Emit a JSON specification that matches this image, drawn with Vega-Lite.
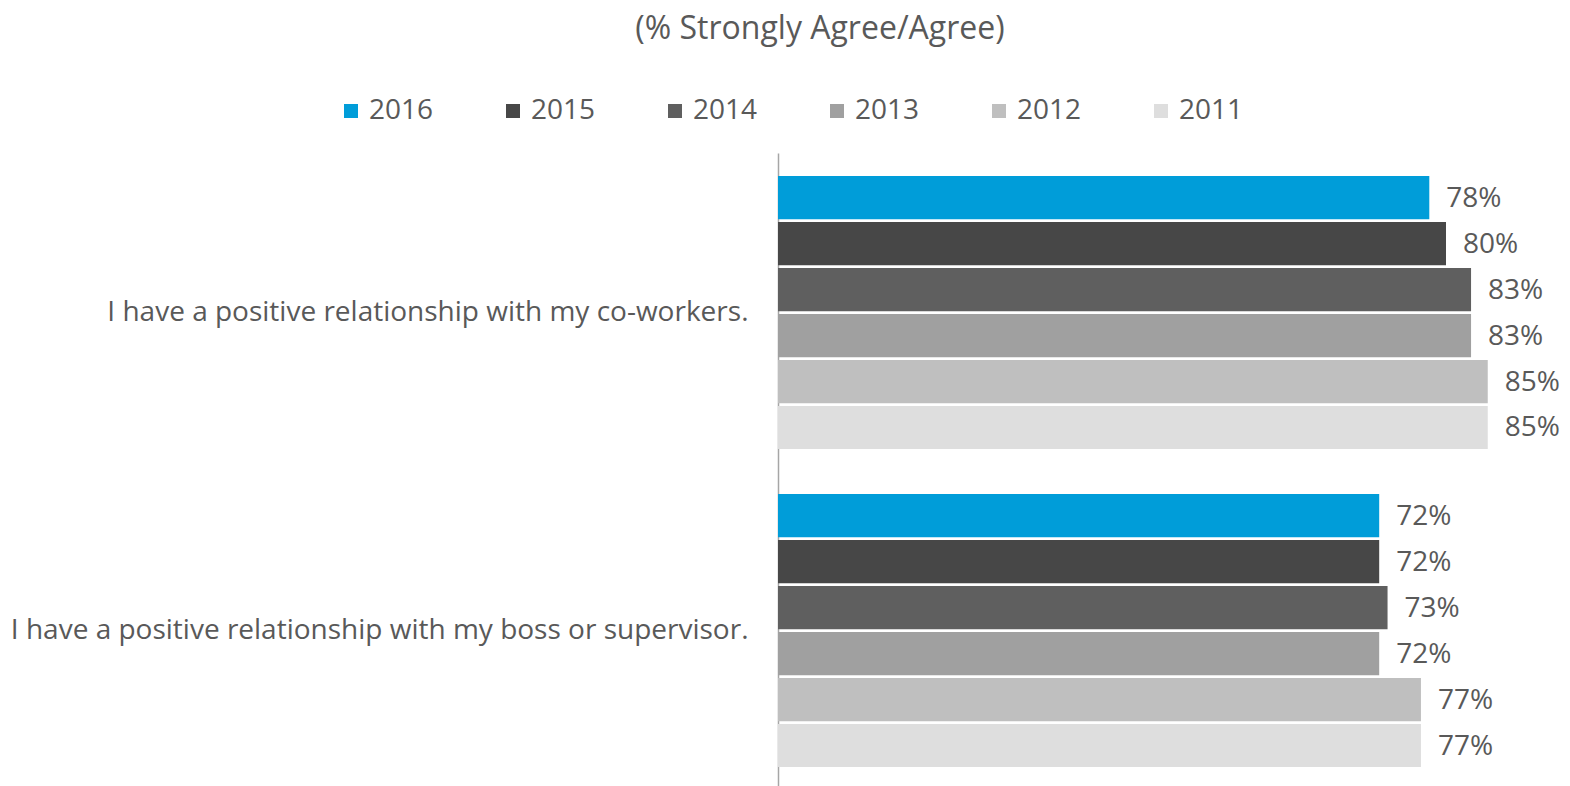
{
  "$schema": "https://vega.github.io/schema/vega-lite/v6.json",
  "autosize": {"type": "none"},
  "padding": {"left": 778, "top": 153, "right": 0, "bottom": 0},
  "width": 792,
  "height": 633,
  "background": "white",
  "title": {
    "text": "(% Strongly Agree/Agree)",
    "anchor": "middle",
    "frame": "group",
    "dx": -354,
    "offset": 51,
    "fontSize": 32,
    "font": "Open Sans",
    "fontWeight": "normal",
    "color": "#595959"
  },
  "config": {"view": {"stroke": null}},
  "data": {
    "values": [
      {"q": "I have a positive relationship with my co-workers.", "year": "2016", "v": 0.78},
      {"q": "I have a positive relationship with my co-workers.", "year": "2015", "v": 0.80},
      {"q": "I have a positive relationship with my co-workers.", "year": "2014", "v": 0.83},
      {"q": "I have a positive relationship with my co-workers.", "year": "2013", "v": 0.83},
      {"q": "I have a positive relationship with my co-workers.", "year": "2012", "v": 0.85},
      {"q": "I have a positive relationship with my co-workers.", "year": "2011", "v": 0.85},
      {"q": "I have a positive relationship with my boss or supervisor.", "year": "2016", "v": 0.72},
      {"q": "I have a positive relationship with my boss or supervisor.", "year": "2015", "v": 0.72},
      {"q": "I have a positive relationship with my boss or supervisor.", "year": "2014", "v": 0.73},
      {"q": "I have a positive relationship with my boss or supervisor.", "year": "2013", "v": 0.72},
      {"q": "I have a positive relationship with my boss or supervisor.", "year": "2012", "v": 0.77},
      {"q": "I have a positive relationship with my boss or supervisor.", "year": "2011", "v": 0.77}
    ]
  },
  "encoding": {
    "y": {
      "field": "q",
      "type": "nominal",
      "sort": ["I have a positive relationship with my co-workers.", "I have a positive relationship with my boss or supervisor."],
      "scale": {"paddingInner": 0.1415, "paddingOuter": 0.066, "align": 0.55},
      "axis": {
        "title": null,
        "ticks": false,
        "domain": true,
        "domainColor": "#a6a6a6",
        "domainWidth": 1.5,
        "labelFont": "Open Sans",
        "labelFontSize": 28,
        "labelColor": "#595959",
        "labelPadding": 30,
        "labelLimit": 800
      }
    },
    "yOffset": {
      "field": "year",
      "type": "nominal",
      "sort": ["2016", "2015", "2014", "2013", "2012", "2011"],
      "scale": {"paddingInner": 0.06}
    },
    "x": {
      "field": "v",
      "type": "quantitative",
      "scale": {"domain": [0, 0.9485]},
      "axis": null
    }
  },
  "layer": [
    {
      "mark": {"type": "bar"},
      "encoding": {
        "color": {
          "field": "year",
          "type": "nominal",
          "sort": ["2016", "2015", "2014", "2013", "2012", "2011"],
          "scale": {
            "domain": ["2016", "2015", "2014", "2013", "2012", "2011"],
            "range": ["#009dd9", "#474747", "#5f5f5f", "#a0a0a0", "#bfbfbf", "#dedede"]
          },
          "legend": {
            "title": null,
            "orient": "none",
            "direction": "horizontal",
            "legendX": -441,
            "legendY": -56,
            "symbolType": "square",
            "symbolSize": 196,
            "symbolStrokeWidth": 0,
            "labelFont": "Open Sans",
            "labelFontSize": 28,
            "labelColor": "#595959",
            "labelOffset": 4,
            "columnPadding": 65
          }
        }
      }
    },
    {
      "mark": {"type": "text", "align": "left", "baseline": "middle", "dx": 17, "dy": 1, "font": "Open Sans", "fontSize": 28, "color": "#595959"},
      "encoding": {
        "text": {"field": "v", "type": "quantitative", "format": ".0%"}
      }
    }
  ]
}
